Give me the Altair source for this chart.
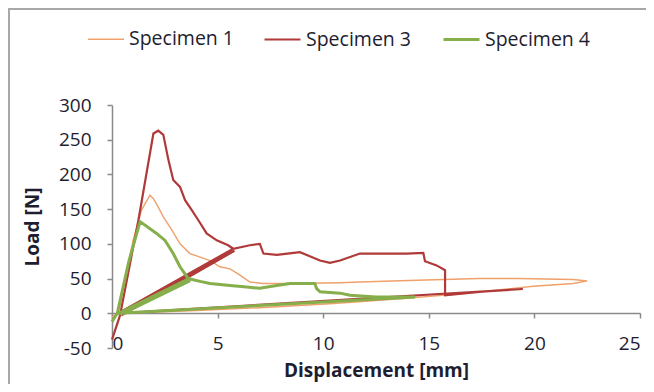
import altair as alt
import pandas as pd

names = ["Specimen 1", "Specimen 3", "Specimen 4"]
colors = ["#F0A06A", "#B03A3A", "#86AE4A"]
widths = [1.4, 3, 3]

# Specimen 1 (orange)
x1 = [0.0, 0.3, 1.0, 1.4, 1.8, 1.96, 2.19, 2.43, 2.83, 3.22, 3.69, 4.17, 4.64, 5.11, 5.59,
      6.06, 6.53, 7.17, 8.43, 10.8, 11.74, 14.43, 17.4, 19.2, 21.84, 22.5, 21.84, 19.95,
      18.37, 16.5, 13.64, 10.5, 7.0, 4.0, 1.5, 0.2]
y1 = [-5, 0, 105, 149, 170, 165, 153, 139, 120, 100, 86, 81, 76, 67, 64,
      55, 45, 43, 43, 44, 45, 47.6, 50, 50, 48.6, 46.6, 43, 39,
      34, 28, 21, 14, 8, 4, 1, 0]

# Specimen 3 (dark red)
x3 = [0.0, 0.38, 1.25, 1.96, 2.19, 2.43, 2.67, 2.9, 3.22, 3.46, 3.77, 4.09, 4.48, 4.96, 5.5,
      5.74, 6.53, 7.0, 7.17, 7.8, 8.9, 9.85, 10.32, 10.8, 11.74, 12.85,
      13.95, 14.74, 14.82, 15.37, 15.77, 15.77, 17.5, 19.45, 0.3, 5.74, 0.45, 5.8]
y3 = [-38, -3, 134, 259, 263, 257, 221, 192, 182, 163, 149, 134, 115, 105, 98,
      93, 98, 100, 86, 84, 88, 76, 72.6, 76, 86, 86,
      86, 87, 75, 69, 62, 26, 31, 35, 0, 93, -3, 90]

# Specimen 4 (green)
x4 = [0.0, 0.25, 0.8, 1.33, 2.11, 2.51, 2.9, 3.22, 3.61, 4.17, 4.64, 5.59, 6.38,
      7.0, 7.8, 8.43, 9.6, 9.69, 9.85, 10.8, 11.27, 12.5, 14.35, 0.3, 3.65, 0.4, 3.7]
y4 = [-12, 0, 75, 132, 115, 105, 86, 67, 50, 46, 43, 40, 38,
      36, 40, 43, 43, 35.6, 31, 29, 26, 23.5, 23.5, 0, 50, -2, 47]

x_ticks = [0, 5, 10, 15, 20, 25]
y_ticks = [-50, 0, 50, 100, 150, 200, 250, 300]

rows = []
for name, xs, ys in zip(names, [x1, x3, x4], [y1, y3, y4]):
    for i, (xv, yv) in enumerate(zip(xs, ys)):
        rows.append({"series": name, "x": xv, "y": yv, "i": i})
df = pd.DataFrame(rows)

FONT = "Open Sans"
TXT = "#1E1E30"
AX = "#8A8A8A"

leg = alt.Legend(
    title=None, orient="none", legendX=-25, legendY=-85, direction="horizontal",
    symbolType="stroke", symbolSize=1296, labelFont=FONT, labelFontSize=19.5,
    labelColor=TXT, columnPadding=25, labelOffset=4, padding=0,
)

lines = alt.Chart(df).mark_line().encode(
    x=alt.X("x:Q", scale=alt.Scale(domain=[0, 25], nice=False, zero=False),
            axis=alt.Axis(values=x_ticks, offset=-35, title="Displacement [mm]",
                          titleY=57, titleBaseline="middle", labelPadding=16,
                          tickSize=5, grid=False, labelExpr="datum.value + ''")),
    y=alt.Y("y:Q", scale=alt.Scale(domain=[-50, 300], nice=False, zero=False),
            axis=alt.Axis(values=y_ticks, title="Load [N]", titleX=-80, titleY=121.5,
                          titleBaseline="middle", labelPadding=16, tickSize=5, grid=False,
                          labelExpr="datum.value + ''")),
    color=alt.Color("series:N", scale=alt.Scale(domain=names, range=colors), legend=leg),
    strokeWidth=alt.StrokeWidth("series:N", scale=alt.Scale(domain=names, range=widths), legend=leg),
    order=alt.Order("i:Q"),
    detail="series:N",
)

frame_df = pd.DataFrame({"a": [0]})
frame_left = alt.Chart(frame_df).mark_rule(color="#A8A8A8", strokeWidth=2).encode(
    x=alt.value(-103), y=alt.value(-96), y2=alt.value(290))
frame_top = alt.Chart(frame_df).mark_rule(color="#A8A8A8", strokeWidth=2).encode(
    x=alt.value(-104), x2=alt.value(534), y=alt.value(-96))

chart = alt.layer(frame_left, frame_top, lines).properties(
    width=528, height=243,
    autosize=alt.AutoSizeParams(type="none"),
    padding={"left": 104, "top": 97, "right": 6, "bottom": 36},
).configure_axis(
    labelFont=FONT, labelFontSize=19, labelColor=TXT,
    titleFont=FONT, titleFontSize=19, titleFontWeight="bold", titleColor=TXT,
    domainColor=AX, domainWidth=1.5, tickColor=AX, tickWidth=1.5,
).configure_view(stroke=None)

chart.save("out.html", embed_options={"renderer": "svg", "actions": False})
